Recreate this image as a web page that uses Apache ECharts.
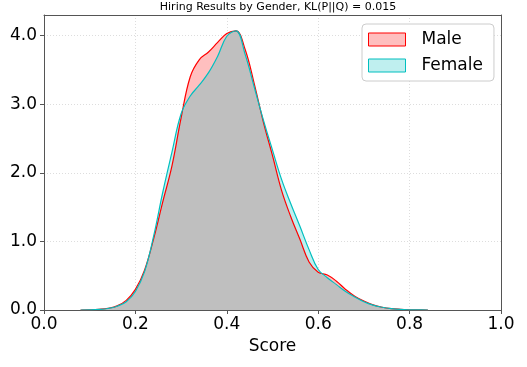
<!DOCTYPE html>
<html>
<head>
<meta charset="utf-8">
<script src="https://cdn.jsdelivr.net/npm/echarts@6/dist/echarts.min.js"></script>
<style>html,body{margin:0;padding:0;background:#fff}#c{width:527px;height:367px}</style>
</head>
<body>
<div id="c"></div>
<script>
var titleText = 'Hiring Results by Gender, KL(P||Q) = 0.015';
var xTickLabels = ['0.0','0.2','0.4','0.6','0.8','1.0'];
var yTickLabels = ['0.0','1.0','2.0','3.0','4.0'];
var scores = [0.08,0.10,0.12,0.14,0.16,0.18,0.20,0.22,0.24,0.26,0.28,0.30,0.32,0.34,0.36,0.38,0.40,0.42,0.44,0.46,0.48,0.50,0.52,0.54,0.56,0.58,0.60,0.62,0.64,0.66,0.68,0.70,0.72,0.74,0.76,0.78,0.80,0.82,0.84];
var maleDensity = [0,0.003,0.01,0.025,0.06,0.14,0.30,0.58,1.04,1.58,2.10,2.80,3.40,3.65,3.76,3.90,4.03,4.07,3.80,3.30,2.74,2.25,1.74,1.36,1.03,0.70,0.55,0.51,0.42,0.30,0.20,0.13,0.075,0.04,0.02,0.01,0.004,0.001,0];
var femaleDensity = [0,0.002,0.008,0.022,0.055,0.12,0.27,0.56,1.08,1.72,2.30,2.86,3.12,3.28,3.46,3.70,3.99,4.07,3.73,3.25,2.77,2.33,1.90,1.55,1.22,0.88,0.59,0.47,0.37,0.27,0.19,0.12,0.07,0.04,0.02,0.008,0.003,0.001,0];

var maleData = scores.map(function(x,i){return [x, maleDensity[i]];});
var femaleData = scores.map(function(x,i){return [x, femaleDensity[i]];});
var overlapData = scores.map(function(x,i){return [x, Math.min(maleDensity[i], femaleDensity[i])];});

var FONT = 'DejaVu Sans';
var SM = 0.4;
var chart = echarts.init(document.getElementById('c'), null, {renderer:'canvas'});
chart.setOption({
  animation:false,
  backgroundColor:'#fff',
  title:{text:titleText, left:273, top:-3, textAlign:'center',
    textStyle:{fontFamily:FONT, fontSize:11, fontWeight:'normal', color:'#000'}},
  grid:{left:44, top:15, width:457, height:295, show:false},
  legend:{orient:'vertical', left:362, top:24, padding:[7,11,7,6], itemGap:9,
    itemWidth:37, itemHeight:13, backgroundColor:'#fff', borderColor:'#ccc', borderWidth:1, borderRadius:4,
    textStyle:{fontFamily:FONT, fontSize:17, color:'#000', padding:[0,0,0,11]},
    data:[
      {name:'Male', icon:'rect', itemStyle:{color:'#ffbfbf', borderColor:'#ff0000', borderWidth:1}},
      {name:'Female', icon:'rect', itemStyle:{color:'#bfefef', borderColor:'#00bfbf', borderWidth:1}}
    ]},
  xAxis:[{type:'value', min:0, max:1, interval:0.2, name:'Score', nameLocation:'middle', nameGap:28,
    nameTextStyle:{fontFamily:FONT, fontSize:17, color:'#000'},
    axisLine:{show:true, lineStyle:{color:'#555', width:1}},
    axisTick:{show:true, length:4, lineStyle:{color:'#555'}},
    axisLabel:{fontFamily:FONT, fontSize:17, color:'#000', margin:6,
      formatter:function(v){var i=Math.round(v/0.2); return Math.abs(v-i*0.2)<1e-6 ? xTickLabels[i] : '';}},
    splitLine:{show:true, lineStyle:{color:'#ddd', type:[1,2], width:1}}},
    {type:'value', position:'top', min:0, max:1, z:10,
    axisLine:{show:true, onZero:false, lineStyle:{color:'#555', width:1}},
    axisTick:{show:false}, axisLabel:{show:false}, splitLine:{show:false}}],
  yAxis:[{type:'value', min:0, max:4.3, interval:1,
    axisLine:{show:true, lineStyle:{color:'#555', width:1}},
    axisTick:{show:true, length:4, lineStyle:{color:'#555'}},
    axisLabel:{fontFamily:FONT, fontSize:17, color:'#000', margin:7, showMaxLabel:false,
      formatter:function(v){var i=Math.round(v); return Math.abs(v-i)<1e-6 && yTickLabels[i] ? yTickLabels[i] : '';}},
    splitLine:{show:true, lineStyle:{color:'#ddd', type:[1,2], width:1}}},
    {type:'value', position:'right', min:0, max:4.3, z:10,
    axisLine:{show:true, onZero:false, lineStyle:{color:'#555', width:1}},
    axisTick:{show:false}, axisLabel:{show:false}, splitLine:{show:false}}],
  series:[
    {name:'Male', type:'line', data:maleData, smooth:SM, showSymbol:false, symbol:'none',
      lineStyle:{width:0}, itemStyle:{color:'#ffbfbf', borderColor:'#ff0000'}, areaStyle:{color:'#ffbfbf', opacity:1}},
    {name:'Female', type:'line', data:femaleData, smooth:SM, showSymbol:false, symbol:'none',
      lineStyle:{width:0}, itemStyle:{color:'#bfefef', borderColor:'#00bfbf'}, areaStyle:{color:'#bfefef', opacity:1}},
    {name:'overlap', type:'line', data:overlapData, smooth:SM, showSymbol:false, symbol:'none',
      lineStyle:{width:0}, areaStyle:{color:'#bfbfbf', opacity:1}, silent:true},
    {name:'MaleLine', type:'line', data:maleData, smooth:SM, showSymbol:false, symbol:'none',
      lineStyle:{width:1.2, color:'#ff0000'}},
    {name:'FemaleLine', type:'line', data:femaleData, smooth:SM, showSymbol:false, symbol:'none',
      lineStyle:{width:1.2, color:'#00bfbf'}}
  ]
});
</script>
</body>
</html>
